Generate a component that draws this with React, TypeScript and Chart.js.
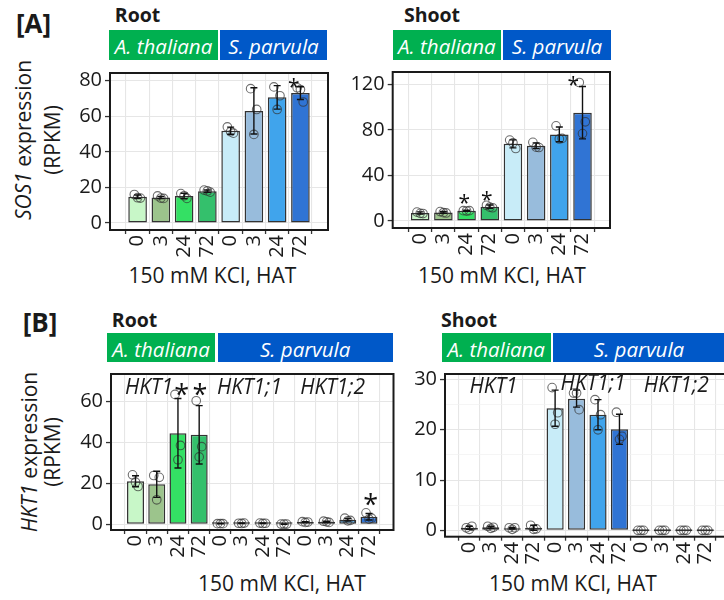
import React, { useEffect, useRef } from 'react';
import { Chart, registerables } from 'chart.js';
Chart.register(...registerables);

const FAMILY = 'Open Sans';
const HAT = ['0', '3', '24', '72'];
const GREENS = ['#c8f7c8', '#9cc48c', '#34e064', '#34c06c'];
const BLUES = ['#c8ecf8', '#98bcdc', '#40a4ec', '#3074d4'];
const JITTER = [-0.14, 0.12, 0.0];

// ---- [A] SOS1, root
const sos1RootMean = [14.7, 14.3, 15.2, 17.9, 51.9, 63.0, 70.6, 73.0];
const sos1RootSd = [1.0, 0.6, 1.5, 0.6, 2.0, 13.0, 6.6, 3.6];
const sos1RootReps = [[16, 14, 14.2], [15.2, 13.8, 14], [16.5, 13.8, 15.3], [18.5, 17.3, 18], [54, 50.5, 51.3], [75.5, 63.8, 49.8], [76.5, 71.5, 63.8], [76, 68, 75]];
const sos1RootStars = [[7, -0.29, 79.3]];
const sos1RootTicks = [0, 10, 20, 30, 40, 50, 60, 70, 80];
const sos1RootMajor = [0, 20, 40, 60, 80];

// ---- [A] SOS1, shoot
const sos1ShootMean = [7.0, 7.5, 8.9, 12.5, 67.7, 66.1, 76.0, 95.1];
const sos1ShootSd = [1.0, 0.8, 0.5, 1.5, 3.5, 2.5, 6.5, 23];
const sos1ShootReps = [[7.8, 6.5, 6.7], [8.2, 7.0, 7.3], [9.0, 9.0, 8.7], [13.8, 11.6, 12.1], [71, 63.6, 68.5], [69, 64.5, 64.8], [83.5, 72.5, 72], [121.6, 87, 76.7]];
const sos1ShootStars = [[2, -0.1, 19.9], [3, -0.13, 22.7], [7, -0.4, 123.5]];
const sos1ShootTicks = [0, 20, 40, 60, 80, 100, 120];
const sos1ShootMajor = [0, 40, 80, 120];

// ---- [B] HKT1, root
const hktRootMean = [21.1, 19.6, 44.6, 43.8, 0.3, 0.5, 0.5, 0.1, 1.1, 1.2, 2.2, 3.7];
const hktRootSd = [2.7, 6.4, 17, 14.3, 0.1, 0.1, 0.15, 0.05, 0.2, 0.3, 0.6, 1.6];
const hktRootReps = [[24.2, 18.5, 20.6], [23.9, 23.0, 12.0], [63.6, 38.6, 31.6], [60.5, 38.0, 33.0], [0.3, 0.3, 0.3], [0.5, 0.6, 0.4], [0.6, 0.5, 0.4], [0.1, 0.1, 0.1], [1.3, 1.1, 0.9], [1.5, 0.9, 1.2], [3.0, 1.9, 1.7], [5.6, 3.0, 2.5]];
const hktRootStars = [[2, 0.18, 66.3], [3, 0.04, 66.3], [11, 0.08, 12.6]];
const hktRootGenes = [['HKT1', 0.64, 66.6], ['HKT1;1', 5.37, 66.6], ['HKT1;2', 9.29, 66.6]];
const hktRootTicks = [0, 10, 20, 30, 40, 50, 60, 70];
const hktRootMajor = [0, 20, 40, 60];

// ---- [B] HKT1, shoot
const hktShootMean = [0.5, 0.6, 0.4, 0.5, 24.3, 26.2, 23.0, 20.1, 0, 0, 0, 0];
const hktShootSd = [0.3, 0.2, 0.15, 0.5, 3.6, 1.7, 3.0, 3.0, 0, 0, 0, 0];
const hktShootReps = [[0.5, 0.8, 0.2], [0.8, 0.6, 0.4], [0.5, 0.5, 0.2], [1.0, 0.3, 0.2], [28.4, 23.4, 21.1], [27.3, 24.0, 27.3], [26.0, 23.0, 20.0], [23.5, 18.7, 18.1], [0, 0, 0], [0, 0, 0], [0, 0, 0], [0, 0, 0]];
const hktShootStars: number[][] = [];
const hktShootGenes = [['HKT1', 1.13, 28.6], ['HKT1;1', 5.77, 29.2], ['HKT1;2', 9.65, 28.8]];
const hktShootTicks = [0, 5, 10, 15, 20, 25, 30];
const hktShootMajor = [0, 10, 20, 30];

type Spec = {
  canvas: { x: number; y: number; w: number; h: number };
  frame: { l: number; t: number; r: number; b: number };
  xMin: number; xMax: number;
  yMin: number; yMax: number;
  yTicks: number[]; yMajor: number[];
  mean: number[]; sd: number[]; reps: number[][];
  colors: string[];
  stars: number[][]; starSize: number;
  genes: (string | number)[][];
};

function BarPanel({ spec }: { spec: Spec }) {
  const ref = useRef<HTMLCanvasElement>(null);
  useEffect(() => {
    const s = spec;
    const idx = s.mean.map((_, i) => i);
    const yW = s.frame.l - s.canvas.x;
    const xH = s.canvas.y + s.canvas.h - s.frame.b;
    const padTop = s.frame.t - s.canvas.y;
    const padRight = s.canvas.x + s.canvas.w - s.frame.r;

    const annot = {
      id: 'annot',
      afterDatasetsDraw(chart: any) {
        const { ctx, chartArea: a } = chart;
        const x = chart.scales.x;
        const y = chart.scales.y;
        ctx.save();
        // error bars
        ctx.strokeStyle = '#111';
        ctx.lineWidth = 1.4;
        s.mean.forEach((m, i) => {
          const d = s.sd[i];
          if (!d) return;
          const px = x.getPixelForValue(i);
          const yt = y.getPixelForValue(m + d);
          const yb = y.getPixelForValue(m - d);
          ctx.beginPath();
          ctx.moveTo(px, yt); ctx.lineTo(px, yb);
          ctx.moveTo(px - 3.5, yt); ctx.lineTo(px + 3.5, yt);
          ctx.moveTo(px - 3.5, yb); ctx.lineTo(px + 3.5, yb);
          ctx.stroke();
        });
        // stars
        ctx.fillStyle = '#111';
        ctx.textAlign = 'center';
        ctx.textBaseline = 'alphabetic';
        ctx.font = `${s.starSize}px "${FAMILY}"`;
        s.stars.forEach(([i, dx, v]) => {
          ctx.fillText('*', x.getPixelForValue(i + dx), y.getPixelForValue(v) + 0.56 * s.starSize);
        });
        // gene labels
        ctx.font = `italic 21px "${FAMILY}"`;
        ctx.textBaseline = 'middle';
        ctx.fillStyle = '#1a1a1a';
        s.genes.forEach(([t, gx, gv]) => {
          ctx.fillText(String(t), x.getPixelForValue(gx as number), y.getPixelForValue(gv as number));
        });
        // frame
        ctx.strokeStyle = '#1a1a1a';
        ctx.lineWidth = 2;
        ctx.strokeRect(a.left, a.top, a.right - a.left, a.bottom - a.top);
        ctx.restore();
      },
    };

    const chart = new Chart(ref.current as HTMLCanvasElement, {
      type: 'bar',
      data: {
        datasets: [
          {
            type: 'bar',
            data: s.mean.map((v, i) => ({ x: i, y: v })),
            backgroundColor: s.colors,
            borderColor: '#333',
            borderWidth: 1.5,
            barPercentage: 0.8,
            categoryPercentage: 1,
            minBarLength: 2,
            borderSkipped: false,
            order: 2,
          } as any,
          {
            type: 'scatter',
            data: s.reps.flatMap((r, i) => r.map((v, j) => ({ x: i + JITTER[j], y: v }))),
            pointRadius: 4.3,
            pointBorderColor: 'rgba(50,50,50,0.7)',
            pointBackgroundColor: 'rgba(0,0,0,0)',
            pointBorderWidth: 1.1,
            order: 1,
          } as any,
        ],
      },
      options: {
        animation: false,
        responsive: false,
        maintainAspectRatio: false,
        layout: { padding: { top: padTop, right: padRight, left: 0, bottom: 0 } },
        plugins: { legend: { display: false }, tooltip: { enabled: false } },
        scales: {
          x: {
            type: 'linear',
            min: s.xMin,
            max: s.xMax,
            afterBuildTicks: (sc: any) => { sc.ticks = idx.map((v) => ({ value: v })); },
            afterFit: (sc: any) => { sc.height = xH; },
            ticks: {
              callback: (v: any) => HAT[Number(v) % 4],
              minRotation: 90,
              maxRotation: 90,
              autoSkip: false,
              padding: 1,
              color: '#1a1a1a',
              font: { family: FAMILY, size: 20 },
            },
            grid: { color: '#e6e6e6', lineWidth: 1.1, tickColor: '#333', tickLength: 4, tickWidth: 1.3 },
            border: { display: false },
          },
          y: {
            type: 'linear',
            min: s.yMin,
            max: s.yMax,
            afterBuildTicks: (sc: any) => { sc.ticks = s.yTicks.map((v) => ({ value: v })); },
            afterFit: (sc: any) => { sc.width = yW; },
            ticks: {
              callback: (v: any) => (s.yMajor.includes(Number(v)) ? String(v) : ''),
              padding: 3,
              color: '#1a1a1a',
              font: { family: FAMILY, size: 20 },
            },
            grid: {
              color: (c: any) => (s.yMajor.includes(c.tick?.value) ? '#e6e6e6' : '#f0f0f0'),
              lineWidth: (c: any) => (s.yMajor.includes(c.tick?.value) ? 1.1 : 0.7),
              tickColor: (c: any) => (s.yMajor.includes(c.tick?.value) ? '#333' : 'rgba(0,0,0,0)'),
              tickLength: 5,
              tickWidth: 1.3,
            },
            border: { display: false },
          },
        },
      } as any,
      plugins: [annot],
    });
    return () => chart.destroy();
  }, []);
  const c = spec.canvas;
  return (
    <canvas
      ref={ref}
      width={c.w}
      height={c.h}
      style={{ position: 'absolute', left: c.x, top: c.y, width: c.w, height: c.h }}
    />
  );
}

const txt = (x: number, y: number, content: React.ReactNode, style: React.CSSProperties = {}, rot = false) => (
  <div
    style={{
      position: 'absolute',
      left: x,
      top: y,
      transform: `translate(-50%, -50%)${rot ? ' rotate(-90deg)' : ''}`,
      whiteSpace: 'nowrap',
      lineHeight: 1,
      fontSize: 21,
      color: '#1a1a1a',
      ...style,
    }}
  >
    {content}
  </div>
);

const strip = (l: number, r: number, t: number, b: number, color: string, label: string, cx?: number) => (
  <>
    <div style={{ position: 'absolute', left: l, top: t, width: r - l, height: b - t, background: color }} />
    {txt(cx ?? (l + r) / 2, (t + b) / 2 + 1, label, { color: '#fff', fontStyle: 'italic', fontSize: 20.5 })}
  </>
);

const GREEN = '#00b050';
const BLUE = '#0058c8';

export default function App() {
  const aRoot: Spec = {
    canvas: { x: 60, y: 58, w: 275, h: 242 },
    frame: { l: 110, t: 64, r: 328, b: 230 },
    xMin: -0.6, xMax: 7.6, yMin: -3.95, yMax: 84.3,
    yTicks: sos1RootTicks, yMajor: sos1RootMajor,
    mean: sos1RootMean, sd: sos1RootSd, reps: sos1RootReps,
    colors: [...GREENS, ...BLUES], stars: sos1RootStars, starSize: 21, genes: [],
  };
  const aShoot: Spec = {
    canvas: { x: 340, y: 57, w: 277, h: 243 },
    frame: { l: 392.7, t: 63, r: 610, b: 228 },
    xMin: -0.6, xMax: 7.6, yMin: -6.2, yMax: 130.8,
    yTicks: sos1ShootTicks, yMajor: sos1ShootMajor,
    mean: sos1ShootMean, sd: sos1ShootSd, reps: sos1ShootReps,
    colors: [...GREENS, ...BLUES], stars: sos1ShootStars, starSize: 21, genes: [],
  };
  const bRoot: Spec = {
    canvas: { x: 60, y: 359, w: 340, h: 211 },
    frame: { l: 111, t: 365, r: 393.5, b: 530 },
    xMin: -0.6, xMax: 11.6, yMin: -2.8, yMax: 73.6,
    yTicks: hktRootTicks, yMajor: hktRootMajor,
    mean: hktRootMean, sd: hktRootSd, reps: hktRootReps,
    colors: [...GREENS, ...BLUES, ...BLUES], stars: hktRootStars, starSize: 27, genes: hktRootGenes,
  };
  const bShoot: Spec = {
    canvas: { x: 395, y: 359, w: 345, h: 211 },
    frame: { l: 445, t: 365.7, r: 730, b: 536.7 },
    xMin: -0.58, xMax: 11.6, yMin: -1.27, yMax: 31.1,
    yTicks: hktShootTicks, yMajor: hktShootMajor,
    mean: hktShootMean, sd: hktShootSd, reps: hktShootReps,
    colors: [...GREENS, ...BLUES, ...BLUES], stars: hktShootStars, starSize: 27, genes: hktShootGenes,
  };

  return (
    <div
      style={{
        position: 'fixed',
        left: 0,
        top: 0,
        width: 724,
        height: 600,
        overflow: 'hidden',
        background: '#fff',
        fontFamily: '"Open Sans", sans-serif',
      }}
    >
      {/* Panel A */}
      {txt(33.5, 23, '[A]', { fontWeight: 700, fontSize: 26 })}
      {txt(137.5, 15, 'Root', { fontWeight: 700, fontSize: 19.5 })}
      {txt(432, 15, 'Shoot', { fontWeight: 700, fontSize: 19.5 })}
      {strip(109, 218, 30, 60, GREEN, 'A. thaliana')}
      {strip(220, 327, 30, 60, BLUE, 'S. parvula')}
      {strip(392.7, 501, 30, 60, GREEN, 'A. thaliana')}
      {strip(503, 611, 30, 60, BLUE, 'S. parvula')}
      {txt(23, 140, <><i>SOS1</i> expression</>, {}, true)}
      {txt(51.5, 140, '(RPKM)', {}, true)}
      {txt(212.5, 275, '150 mM KCl, HAT')}
      {txt(502, 275, '150 mM KCl, HAT')}
      <BarPanel spec={aRoot} />
      <BarPanel spec={aShoot} />

      {/* Panel B */}
      {txt(40, 322, '[B]', { fontWeight: 700, fontSize: 26 })}
      {txt(134.5, 320, 'Root', { fontWeight: 700, fontSize: 19.5 })}
      {txt(469, 320, 'Shoot', { fontWeight: 700, fontSize: 19.5 })}
      {strip(107, 215, 333, 362, GREEN, 'A. thaliana')}
      {strip(217.7, 392.7, 333, 362, BLUE, 'S. parvula')}
      {strip(441.7, 550.7, 333, 362, GREEN, 'A. thaliana')}
      {strip(553, 726, 333, 362, BLUE, 'S. parvula', 639)}
      {txt(29, 452, <><i>HKT1</i> expression</>, {}, true)}
      {txt(52, 452, '(RPKM)', {}, true)}
      {txt(282, 583, '150 mM KCl, HAT')}
      {txt(573, 583, '150 mM KCl, HAT')}
      <BarPanel spec={bRoot} />
      <BarPanel spec={bShoot} />
    </div>
  );
}
